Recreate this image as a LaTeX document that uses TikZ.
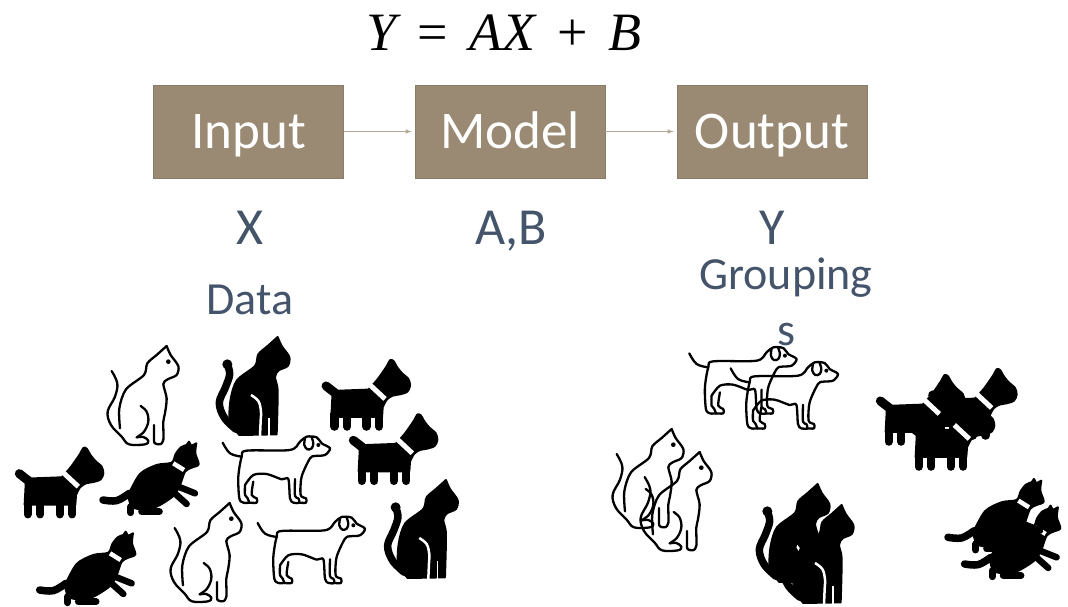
\documentclass[tikz,border=0pt]{standalone}
\usepackage{fontspec}
\setmainfont{Carlito}
\newfontfamily\eqfont{Liberation Serif}
\usepackage{tikz}
\usepackage{xcolor}
\definecolor{boxbrown}{RGB}{155,138,115}
\definecolor{linkbrown}{RGB}{181,170,152}
\definecolor{labelblue}{RGB}{68,84,106}
\tikzset{
  art/.style={x=0.3333pt,y=-0.3333pt,line cap=round,line join=round},
  lineart/.style={draw=black,line width=2.3pt},
  solidart/.style={draw=black,fill=black,line width=2pt},
  limb/.style={draw=black,line width=#1},
  cutout/.style={draw=white,line width=#1,line cap=butt},
  catline/.pic={
    \begin{scope}[art]
    \draw[lineart] plot[smooth,tension=.6] coordinates {(335,123)(352,160)(345,200)(323,245)(333,285)(365,320)(387,343)(435,343)(445,332)(430,321)(410,322)};
    \draw[lineart] plot[smooth,tension=.6] coordinates {(422,228)(440,245)(445,275)(432,305)(410,322)};
    \draw[lineart] plot[smooth,tension=.5] coordinates {(360,295)(358,235)(378,178)(432,135)(442,100)(470,75)(500,48)};
    \draw[lineart] plot[smooth,tension=.5] coordinates {(500,48)(512,75)(535,108)(530,135)(503,148)(490,162)(500,205)(495,250)(490,275)(490,330)(480,343)(465,340)(462,330)(462,285)};
    \fill (505,95) circle (7);
    \end{scope}
  },
  catsolid/.pic={
    \begin{scope}[art]
    \draw[solidart] plot[smooth,tension=.5] coordinates {(500,48)(512,75)(535,108)(530,135)(503,148)(492,168)(500,210)(497,340)} -- (385,342) -- plot[smooth,tension=.5] coordinates {(385,342)(357,300)(359,235)(378,178)(432,135)(442,100)(470,75)(500,48)} -- cycle;
    \fill (349,130) circle (15);
    \draw[limb=7.5pt] plot[smooth,tension=.6] coordinates {(349,130)(356,160)(343,200)(325,245)(340,290)(375,325)};
    \draw[cutout=2.5pt] plot[smooth,tension=.6] coordinates {(420,222)(442,240)(450,270)(449,300)(447,346)};
    \draw[cutout=1.5pt] (474,292) -- (474,348);
    \end{scope}
  },
  dogline/.pic={
    \begin{scope}[art]
    \draw[lineart] plot[smooth,tension=.6] coordinates {(38,338)(60,370)(95,380)};
    \draw[lineart] plot[smooth,tension=.5] coordinates {(118,518)(100,518)(88,505)(85,440)(95,380)(110,362)(240,360)(270,335)(290,320)(320,322)(335,340)(360,355)(345,375)(315,378)(300,385)(275,440)(272,495)(288,505)(288,518)(268,518)};
    \draw[lineart] plot[smooth,tension=.5] coordinates {(105,465)(130,435)(170,432)(215,448)(235,447)(240,505)(250,518)(268,518)(265,505)(255,498)(255,447)};
    \draw[lineart] plot[smooth,tension=.5] coordinates {(105,465)(105,495)(113,505)(118,518)};
    \draw[lineart] plot[smooth,tension=.5] coordinates {(130,455)(125,495)(140,505)(140,518)(118,518)};
    \draw[lineart] plot[smooth,tension=.6] coordinates {(285,325)(283,345)(292,358)(305,355)(310,340)(305,322)};
    \fill (325,345) circle (6);
    \end{scope}
  },
  dogsolid/.pic={
    \begin{scope}[art]
    \draw[limb=9pt] (58,431) -- (85,452);
    \draw[solidart] (78,446) -- (185,442) -- plot[smooth,tension=.5] coordinates {(185,442)(212,412)(240,372)(250,354)(260,356)(272,376)(287,394)(305,410)(310,430)(302,448)(280,456)(258,460)(240,472)(228,495)} -- (226,524) -- (74,524) -- cycle;
    \draw[limb=8.3pt] (83,515) -- (83,553);
    \draw[limb=8.3pt] (121,528) -- (121,553);
    \draw[limb=8.3pt] (179,515) -- (179,553);
    \draw[limb=8.3pt] (217,515) -- (217,553);
    \draw[cutout=5pt] (190,428) -- (235,470);
    \end{scope}
  },
  kittensolid/.pic={
    \begin{scope}[art]
    \draw[solidart] plot[smooth,tension=.5] coordinates {(385,495)(420,432)(470,405)(515,398)(527,372)(543,352)(560,345)} -- (567,335) -- (574,348) -- (589,340) -- plot[smooth,tension=.5] coordinates {(589,340)(586,370)(596,403)(575,413)(555,425)(540,465)(520,498)(470,530)(430,538)(395,530)(385,495)} -- cycle;
    \draw[limb=7.5pt] plot[smooth,tension=.6] coordinates {(309,510)(350,512)(388,490)};
    \draw[limb=6.5pt] (530,468) -- (585,490);
    \draw[limb=6.5pt] (522,488) -- (560,522);
    \draw[limb=7pt] (392,530) -- (392,548);
    \draw[limb=7pt] (425,545) -- (478,545);
    \draw[cutout=4.5pt] (520,400) -- (552,420);
    \end{scope}
  }
}
\begin{document}
\begin{tikzpicture}[x=1pt,y=-1pt,
  stagebox/.style={fill=boxbrown,draw=boxbrown!90!black,line width=.6pt,minimum width=190pt,minimum height=93pt,inner sep=0pt,text=white,text height=33pt,text depth=0pt,font=\fontsize{53}{56}\selectfont},
  link/.style={draw=linkbrown,line width=1.1pt,-latex,shorten >=3pt},
  varlabel/.style={text=labelblue,inner sep=0pt,text height=33pt,text depth=0pt,font=\fontsize{52}{56}\selectfont},
  tag/.style={text=labelblue,inner sep=0pt,align=center,font=\fontsize{46}{56}\selectfont}]
\useasboundingbox (0,0) rectangle (1068,606);
\node[inner sep=0pt,text height=33pt,text depth=0pt,font=\eqfont\fontsize{54}{56}\selectfont] (equation) at (504,34) {\itshape Y\hspace{8pt} \upshape=\hspace{8pt} \itshape AX\hspace{8pt} \upshape+\hspace{8pt} \itshape B};
\node[stagebox] (input) at (248.5,131.5) {Input};
\node[stagebox] (model) at (510,131.5) {Model};
\node[stagebox] (output) at (772,131.5) {Output};
\draw[link] (input) -- (model);
\draw[link] (model) -- (output);
\node[varlabel] (xlabel) at (250,228) {X};
\node[varlabel] (ablabel) at (511,228) {A,B};
\node[varlabel] (ylabel) at (772,228) {Y};
\node[tag] (data) at (250,300) {Data};
\node[tag] (groupings) at (786,302) {Grouping\\s};
\foreach \px/\py in {0/330,63/487,505/413,533/436}
  \pic at (\px,\py) {catline};
\foreach \px/\py in {111/321,279.3/464,651/468,675/489}
  \pic at (\px,\py) {catsolid};
\foreach \px/\py in {210/330,245/410.3,676.6/240.7,718/255.7}
  \pic at (\px,\py) {dogline};
\foreach \px/\py in {0/330,306.7/242.3,334/296.6,913.3/251.3,861/257.3,891/282.3}
  \pic at (\px,\py) {dogsolid};
\foreach \px/\py in {0/330,-63.3/420,861.6/394,845/367.3}
  \pic at (\px,\py) {kittensolid};
\end{tikzpicture}
\end{document}
